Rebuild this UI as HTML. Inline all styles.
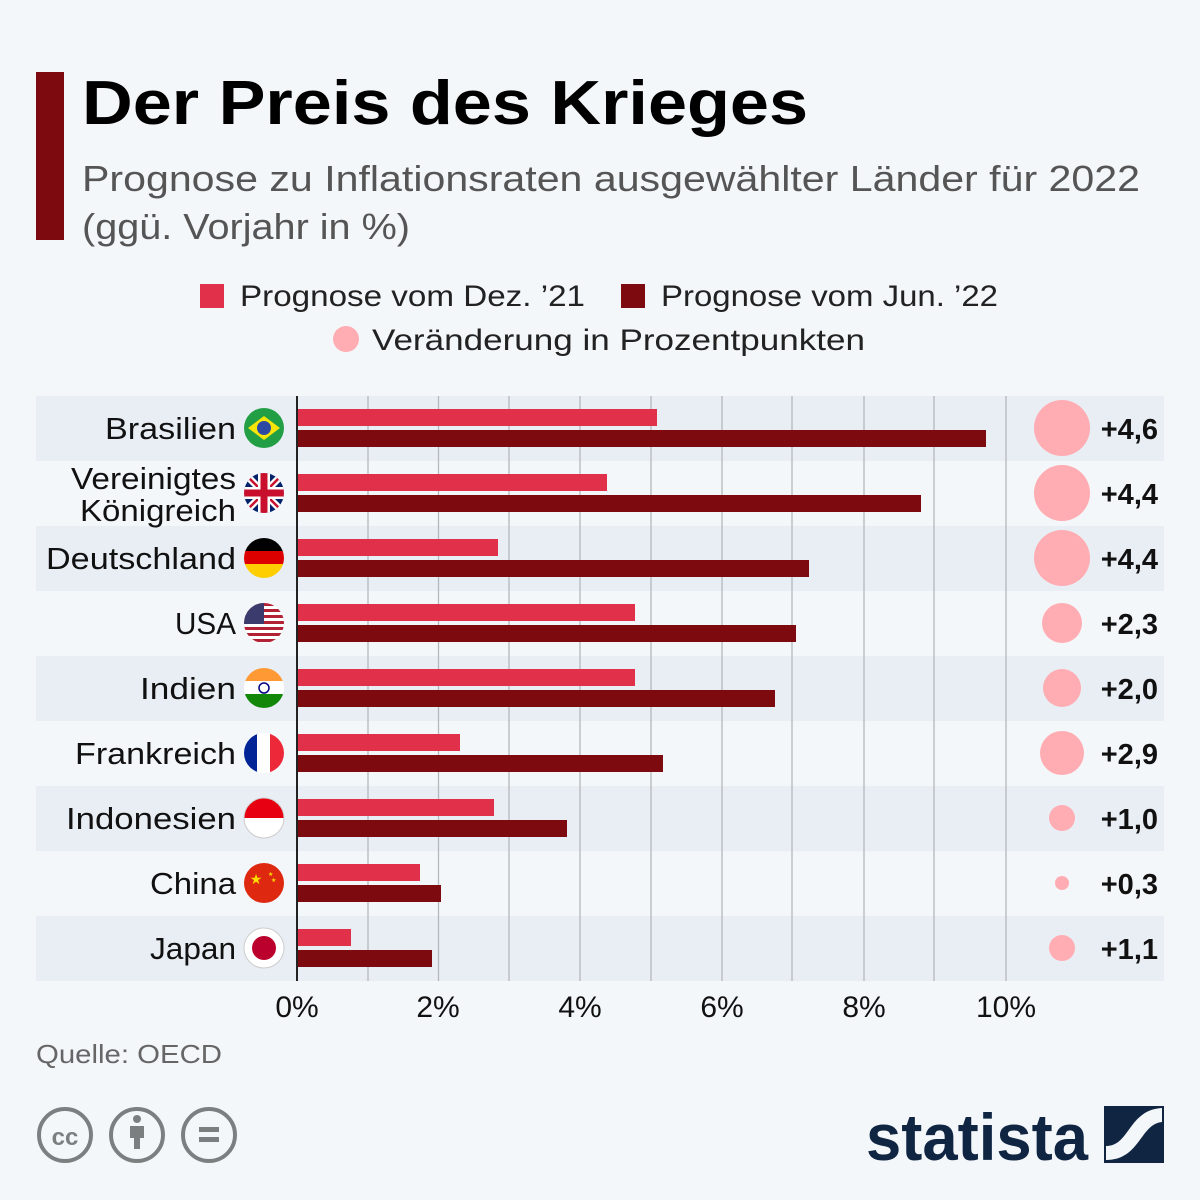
<!DOCTYPE html>
<html><head><meta charset="utf-8"><style>
body{margin:0;background:#f4f7fa;}
svg{display:block;font-family:"Liberation Sans","DejaVu Sans",sans-serif;}
</style></head><body>
<svg width="1200" height="1200" viewBox="0 0 1200 1200" xmlns="http://www.w3.org/2000/svg">
<rect width="1200" height="1200" fill="#f4f7fa"/>
<rect x="36" y="72" width="28" height="168" fill="#7d0a0f"/>
<text x="82" y="124" font-size="62" font-weight="bold" fill="#000" textLength="726" lengthAdjust="spacingAndGlyphs">Der Preis des Krieges</text>
<text x="82" y="191" font-size="36" fill="#555" textLength="1058" lengthAdjust="spacingAndGlyphs">Prognose zu Inflationsraten ausgewählter Länder für 2022</text>
<text x="82" y="239" font-size="36" fill="#555" textLength="328" lengthAdjust="spacingAndGlyphs">(ggü. Vorjahr in %)</text>
<rect x="200" y="284" width="24" height="24" fill="#e0304a"/>
<text x="240" y="306" font-size="30" fill="#222" textLength="345" lengthAdjust="spacingAndGlyphs">Prognose vom Dez. ’21</text>
<rect x="621" y="284" width="24" height="24" fill="#7d0a0f"/>
<text x="661" y="306" font-size="30" fill="#222" textLength="337" lengthAdjust="spacingAndGlyphs">Prognose vom Jun. ’22</text>
<circle cx="346" cy="339" r="13" fill="#ffadb3"/>
<text x="372" y="350" font-size="30" fill="#222" textLength="493" lengthAdjust="spacingAndGlyphs">Veränderung in Prozentpunkten</text>
<g fill="#e9eef5">
<rect x="36" y="396" width="1128" height="65"/>
<rect x="36" y="526" width="1128" height="65"/>
<rect x="36" y="656" width="1128" height="65"/>
<rect x="36" y="786" width="1128" height="65"/>
<rect x="36" y="916" width="1128" height="65"/>
</g>
<g stroke="#b5b8bb" stroke-width="1.3">
<line x1="368" y1="396" x2="368" y2="981"/><line x1="438.5" y1="396" x2="438.5" y2="981"/>
<line x1="509" y1="396" x2="509" y2="981"/><line x1="580" y1="396" x2="580" y2="981"/>
<line x1="651" y1="396" x2="651" y2="981"/><line x1="722" y1="396" x2="722" y2="981"/>
<line x1="792" y1="396" x2="792" y2="981"/><line x1="864" y1="396" x2="864" y2="981"/>
<line x1="934" y1="396" x2="934" y2="981"/><line x1="1006" y1="396" x2="1006" y2="981"/>
</g>
<g fill="#e0304a">
<rect x="297" y="409" width="360" height="17"/>
<rect x="297" y="474" width="310" height="17"/>
<rect x="297" y="539" width="201" height="17"/>
<rect x="297" y="604" width="338" height="17"/>
<rect x="297" y="669" width="338" height="17"/>
<rect x="297" y="734" width="163" height="17"/>
<rect x="297" y="799" width="197" height="17"/>
<rect x="297" y="864" width="123" height="17"/>
<rect x="297" y="929" width="54" height="17"/>
</g>
<g fill="#7d0a0f">
<rect x="297" y="430" width="689" height="17"/>
<rect x="297" y="495" width="624" height="17"/>
<rect x="297" y="560" width="512" height="17"/>
<rect x="297" y="625" width="499" height="17"/>
<rect x="297" y="690" width="478" height="17"/>
<rect x="297" y="755" width="366" height="17"/>
<rect x="297" y="820" width="270" height="17"/>
<rect x="297" y="885" width="144" height="17"/>
<rect x="297" y="950" width="135" height="17"/>
</g>
<line x1="297" y1="396" x2="297" y2="981" stroke="#222" stroke-width="2"/>
<g font-size="31" fill="#111" lengthAdjust="spacingAndGlyphs">
<text x="105" y="439" textLength="131" lengthAdjust="spacingAndGlyphs">Brasilien</text>
<text x="71" y="489" textLength="165" lengthAdjust="spacingAndGlyphs">Vereinigtes</text>
<text x="80" y="521" textLength="156" lengthAdjust="spacingAndGlyphs">Königreich</text>
<text x="46" y="569" textLength="190" lengthAdjust="spacingAndGlyphs">Deutschland</text>
<text x="175" y="634" textLength="61" lengthAdjust="spacingAndGlyphs">USA</text>
<text x="140" y="699" textLength="96" lengthAdjust="spacingAndGlyphs">Indien</text>
<text x="75" y="764" textLength="161" lengthAdjust="spacingAndGlyphs">Frankreich</text>
<text x="66" y="829" textLength="170" lengthAdjust="spacingAndGlyphs">Indonesien</text>
<text x="150" y="894" textLength="86" lengthAdjust="spacingAndGlyphs">China</text>
<text x="150" y="959" textLength="86" lengthAdjust="spacingAndGlyphs">Japan</text>
</g>
<defs>
<clipPath id="c2"><circle cx="264" cy="493" r="20"/></clipPath>
<clipPath id="c3"><circle cx="264" cy="558" r="20"/></clipPath>
<clipPath id="c4"><circle cx="264" cy="623" r="20"/></clipPath>
<clipPath id="c5"><circle cx="264" cy="688" r="20"/></clipPath>
<clipPath id="c6"><circle cx="264" cy="753" r="20"/></clipPath>
<clipPath id="c7"><circle cx="264" cy="818" r="20"/></clipPath>
</defs>
<circle cx="264" cy="428" r="20" fill="#229e45"/><polygon points="248,428 264,416 280,428 264,440" fill="#f8e509"/><circle cx="264" cy="428" r="7" fill="#2b49a3"/>
<g clip-path="url(#c2)"><rect x="244" y="473" width="40" height="40" fill="#012169"/>
<line x1="244" y1="473" x2="284" y2="513" stroke="#fff" stroke-width="7"/><line x1="284" y1="473" x2="244" y2="513" stroke="#fff" stroke-width="7"/>
<line x1="244" y1="473" x2="284" y2="513" stroke="#c8102e" stroke-width="2.5"/><line x1="284" y1="473" x2="244" y2="513" stroke="#c8102e" stroke-width="2.5"/>
<rect x="244" y="487" width="40" height="12" fill="#fff"/><rect x="258" y="473" width="12" height="40" fill="#fff"/>
<rect x="244" y="489.5" width="40" height="7" fill="#c8102e"/><rect x="260.5" y="473" width="7" height="40" fill="#c8102e"/></g>
<g clip-path="url(#c3)"><rect x="244" y="538" width="40" height="14" fill="#000"/><rect x="244" y="551" width="40" height="14" fill="#dd0000"/><rect x="244" y="564" width="40" height="14" fill="#ffce00"/></g>
<g clip-path="url(#c4)"><rect x="244" y="603" width="40" height="40" fill="#fff"/>
<g fill="#b22234"><rect x="244" y="603" width="40" height="3"/><rect x="244" y="609" width="40" height="3"/><rect x="244" y="615" width="40" height="3"/><rect x="244" y="621" width="40" height="3"/><rect x="244" y="627" width="40" height="3"/><rect x="244" y="633" width="40" height="3"/><rect x="244" y="639" width="40" height="3"/></g>
<rect x="244" y="603" width="20" height="21" fill="#3c3b6e"/></g>
<g clip-path="url(#c5)"><rect x="244" y="668" width="40" height="14" fill="#ff9933"/><rect x="244" y="681" width="40" height="14" fill="#fff"/><rect x="244" y="694" width="40" height="14" fill="#138808"/></g>
<circle cx="264" cy="688" r="5" fill="none" stroke="#000080" stroke-width="1.5"/>
<g clip-path="url(#c6)"><rect x="244" y="733" width="14" height="40" fill="#002395"/><rect x="257" y="733" width="14" height="40" fill="#fff"/><rect x="270" y="733" width="14" height="40" fill="#ed2939"/></g>
<g clip-path="url(#c7)"><rect x="244" y="798" width="40" height="20" fill="#e70011"/><rect x="244" y="818" width="40" height="20" fill="#fff"/></g>
<circle cx="264" cy="818" r="20" fill="none" stroke="#ccc" stroke-width="1"/>
<circle cx="264" cy="883" r="20" fill="#de2910"/>
<text x="256" y="884" font-size="14" fill="#ffde00" text-anchor="middle">★</text>
<text x="268" y="876" font-size="6" fill="#ffde00">★</text><text x="271" y="882" font-size="6" fill="#ffde00">★</text>
<circle cx="264" cy="948" r="20" fill="#fff" stroke="#ccc" stroke-width="1"/><circle cx="264" cy="948" r="12" fill="#bc002d"/>
<g fill="#ffadb3">
<circle cx="1062" cy="428" r="28"/><circle cx="1062" cy="493" r="28"/><circle cx="1062" cy="558" r="28"/>
<circle cx="1062" cy="623" r="20"/><circle cx="1062" cy="688" r="19"/><circle cx="1062" cy="753" r="22"/>
<circle cx="1062" cy="818" r="13"/><circle cx="1062" cy="883" r="7"/><circle cx="1062" cy="948" r="13"/>
</g>
<g font-size="29" font-weight="bold" fill="#111" text-anchor="end">
<text x="1158" y="439">+4,6</text><text x="1158" y="504">+4,4</text><text x="1158" y="569">+4,4</text>
<text x="1158" y="634">+2,3</text><text x="1158" y="699">+2,0</text><text x="1158" y="764">+2,9</text>
<text x="1158" y="829">+1,0</text><text x="1158" y="894">+0,3</text><text x="1158" y="959">+1,1</text>
</g>
<g font-size="30" fill="#111" text-anchor="middle">
<text x="297" y="1017">0%</text><text x="438" y="1017">2%</text><text x="580" y="1017">4%</text>
<text x="722" y="1017">6%</text><text x="864" y="1017">8%</text><text x="1006" y="1017">10%</text>
</g>
<text x="36" y="1063" font-size="26" fill="#666" textLength="186" lengthAdjust="spacingAndGlyphs">Quelle: OECD</text>
<g fill="none" stroke="#7c7f80" stroke-width="4">
<circle cx="65" cy="1135" r="26"/><circle cx="137" cy="1135" r="26"/><circle cx="209" cy="1135" r="26"/>
</g>
<text x="65" y="1145" font-size="24" font-weight="bold" fill="#7c7f80" text-anchor="middle">cc</text>
<circle cx="137" cy="1119" r="4" fill="#7c7f80"/><rect x="130" y="1126" width="14" height="12" fill="#7c7f80"/><rect x="134" y="1136" width="6" height="13" fill="#7c7f80"/>
<rect x="199" y="1127" width="20" height="5" fill="#7c7f80"/><rect x="199" y="1137" width="20" height="5" fill="#7c7f80"/>
<text x="1088" y="1160" font-size="66" font-weight="bold" fill="#0f2542" text-anchor="end" textLength="222" lengthAdjust="spacingAndGlyphs">statista</text>
<rect x="1104" y="1106" width="60" height="57" fill="#0f2542"/>
<path d="M1106,1146 C1130,1146 1128,1110 1162,1108 L1162,1122 C1140,1124 1140,1160 1106,1160 Z" fill="#f4f7fa"/>
</svg>
</body></html>
